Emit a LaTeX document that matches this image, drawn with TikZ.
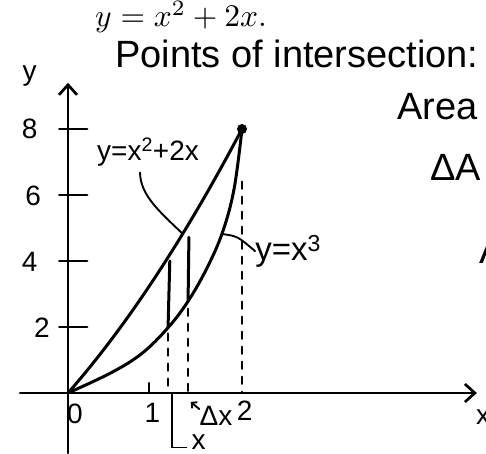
\documentclass[tikz,border=0pt]{standalone}
\usepackage{graphicx}
\usepackage{fontspec}
\setsansfont{Liberation Sans}
\usetikzlibrary{arrows.meta}
\begin{document}
\begin{tikzpicture}[x=87pt, y=33pt, line cap=round,
  every node/.style={font=\sffamily\fontsize{28}{30}\selectfont, inner sep=0pt},
  curve/.style={line width=3pt},
  axis/.style={line width=2.7pt},
  guide/.style={line width=2.5pt, dash pattern=on 7pt off 8pt},
  strip/.style={line width=3pt},
  leader/.style={line width=1.9pt},
  bigtext/.style={font=\sffamily\fontsize{38}{42}\selectfont, anchor=base west}]
  \useasboundingbox (-68pt,-60pt) rectangle (418pt,393pt);

  % --- Text above the graph ---
  \node[anchor=base west, font=\normalfont\normalsize] (eqn) at (27pt,366pt) {\scalebox{3.15}{$y = x^2 + 2x.$}};
  \node[bigtext] (points) at (47pt,325pt) {Points of intersection:};
  \node[bigtext] (area) at (329pt,273pt) {Area};
  \node[bigtext] (darea) at (362pt,213pt) {ΔA};
  \node[bigtext] (apart) at (411pt,130pt) {A};

  % --- Axes ---
  \draw[axis, -{Straight Barb[length=10pt,width=18pt]}] (-0.55,0) -- (4.70,0);
  \draw[axis, -{Straight Barb[length=10pt,width=18pt]}] (0,-1.82) -- (0,9.4);
  \node (ylab) at (-0.44,9.62) {y};
  \node[anchor=west] (xlab) at (408pt,-24pt) {x};
  \foreach \k in {2,4,6,8}
    \draw[axis] (-0.10,\k) -- (0.22,\k);
  \node (t8) at (-0.44,8) {8};
  \node (t6) at (-0.40,5.97) {6};
  \node (t4) at (-0.44,3.97) {4};
  \node (t2) at (-0.30,1.97) {2};
  \node (t0) at (0.08,-0.62) {0};
  \draw[axis] (0.93,0) -- (0.93,0.3);
  \node (t1) at (0.97,-0.6) {1};
  \node (tx2) at (2.03,-0.55) {2};

  % --- Curves ---
  \draw[curve, smooth, domain=0:2, samples=60] plot (\x, {3*\x + 0.5*\x*\x});
  \draw[curve] plot[smooth, tension=0.6] coordinates
    {(0,0) (0.5,0.62) (0.85,1.2) (1.15,1.98) (1.38,2.78) (1.6,3.8) (1.78,4.9) (1.91,6.2) (2,8)};
  \fill (2,8) circle (5pt);

  % --- Strip ---
  \draw[strip] (1.15,1.98) -- (1.17,4.0);
  \draw[strip] (1.38,2.78) -- (1.39,4.72);
  \draw[guide] (1.15,1.8) -- (1.15,0);
  \draw[guide] (1.38,2.55) -- (1.38,0);
  \draw[guide] (2,6.4) -- (2,0);

  % --- Curve labels ---
  \node (parlab) at (0.92,7.3) {y=x\textsuperscript{2}+2x};
  \coordinate (partouch) at (1.32,4.82);
  \draw[leader] ([xshift=-8pt,yshift=-6pt]parlab.south) .. controls (0.83,6.0) and (1.05,5.5) .. (partouch);
  \node[anchor=west, font=\sffamily\fontsize{33}{36}\selectfont] (cublab) at (2.15,4.3) {y=x\textsuperscript{3}};
  \coordinate (cubtouch) at (1.77,4.82);
  \draw[leader] (cubtouch) .. controls (1.95,4.75) .. (cublab.west);

  % --- Strip labels ---
  \node (dxlab) at (1.70,-0.7) {Δx};
  \coordinate (dxtip) at (1.41,-0.27);
  \draw[leader, -{Straight Barb[length=4pt,width=8pt]}] ([yshift=7pt]dxlab.west) -- (dxtip);
  \node (xsub) at (1.5,-1.5) {x};
  \coordinate (xfoot) at (1.2,-0.05);
  \draw[leader] (xfoot) |- ([xshift=-5pt,yshift=-5pt]xsub.west);
\end{tikzpicture}
\end{document}
